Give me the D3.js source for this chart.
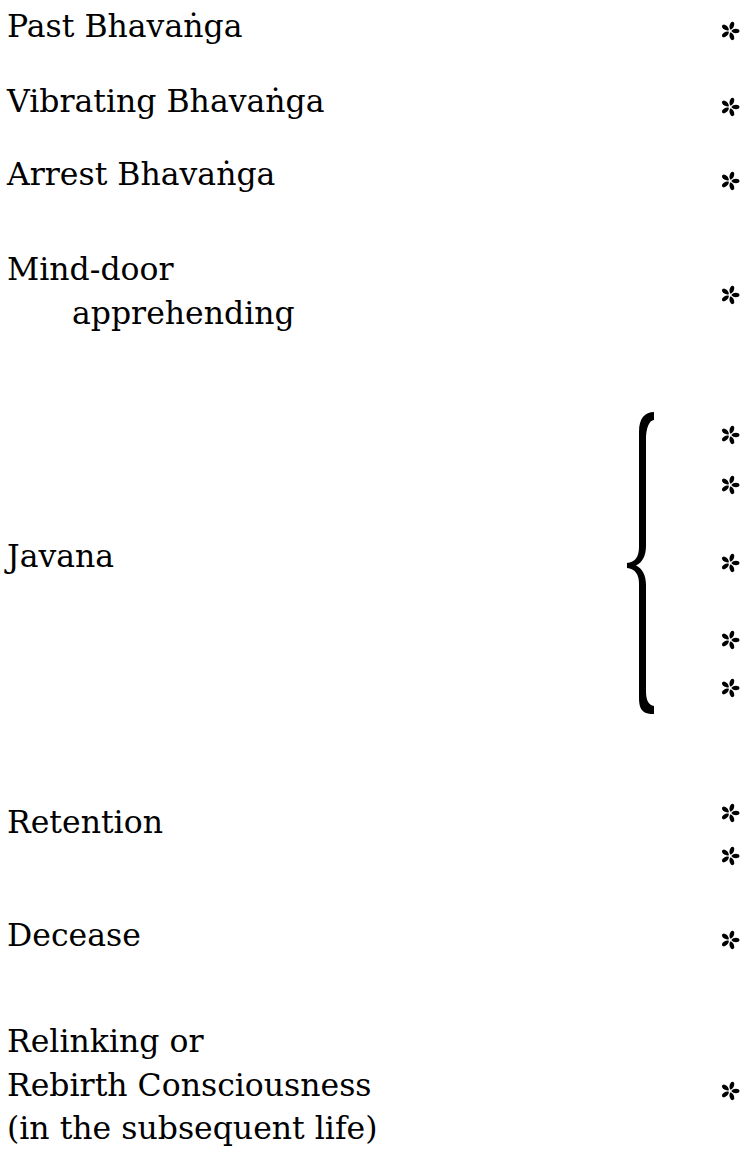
<!DOCTYPE html>
<html>
<head>
<meta charset="utf-8">
<script src="https://cdn.jsdelivr.net/npm/d3@7"></script>
<style>
  body { margin: 0; background: #fff; }
  svg text { font-family: "DejaVu Serif", serif; fill: #000; }
</style>
</head>
<body>
<div id="chart"></div>
<script>
var width = 751,
    height = 1154;

// stages of the mind-door process
var stages = ["Past Bhavaṅga", "Vibrating Bhavaṅga", "Arrest Bhavaṅga",
  "Mind-door|apprehending", "Javana", "Retention", "Decease",
  "Relinking or|Rebirth Consciousness|(in the subsequent life)"];
// where each stage sits on the (top-down) timeline
var stageAt = [37, 112, 185, 280, 567, 833, 946, 1052];

// one asterisk per mind-moment
var momentStage = [0, 1, 2, 3, 4, 4, 4, 4, 4, 5, 5, 6, 7];
var momentAt = [31, 107, 181, 295, 435, 485, 563, 640, 688, 813, 856, 940, 1091];

var svg = d3.select("#chart")
  .append("svg")
    .attr("width", width)
    .attr("height", height);

var y = d3.scaleLinear()
  .domain([0, height])
  .range([0, height]);

var lineH = 43.5;

// labels
var lab = svg.append("g").selectAll("text")
  .data(stages)
  .enter()
  .append("text")
    .attr("font-size", "31.5px")
    .attr("y", function(d, i) { return y(stageAt[i]); });

lab.selectAll("tspan")
  .data(function(d, i) { return d.split("|").map(function(s) { return {s: s, k: i}; }); })
  .enter()
  .append("tspan")
    .attr("x", function(d, j) { return (d.k == 3 && j > 0) ? 72 : 7; })
    .attr("dy", function(d, j) { return j == 0 ? 0 : lineH; })
    .text(function(d) { return d.s; });

// five-spoked asterisk
var petal = "M0,-1.4 C2.2,-3 2.8,-6 1.6,-8.8 Q0,-10.4 -1.6,-8.8 C-2.8,-6 -2.2,-3 0,-1.4 Z";
var ast = svg.append("g").selectAll("g")
  .data(momentAt)
  .enter()
  .append("g")
    .attr("transform", function(d) { return "translate(730," + y(d) + ")"; });

ast.selectAll("path")
  .data([90, 18, -54, -126, -198])
  .enter()
  .append("path")
    .attr("d", petal)
    .attr("transform", function(a) { return "rotate(" + a + ")"; })
    .style("fill", "#000");

// curly brace over the javana moments
var jav = momentAt.filter(function(d, i) { return momentStage[i] == 4; });
var t = y(d3.min(jav)) - 23,
    b = y(d3.max(jav)) + 25,
    m = y(stageAt[4]) - 2;

var brace = "M654," + t +
  " C645," + t + " 639," + (t + 6) + " 639," + (t + 20) +
  " L639," + (m - 18) +
  " C639," + (m - 8) + " 635," + (m - 3) + " 627," + (m - 2) +
  " L627," + (m + 3) +
  " C635," + (m + 4) + " 639," + (m + 9) + " 639," + (m + 19) +
  " L639," + (b - 15) +
  " C639," + (b - 1) + " 645," + (b + 1) + " 654," + (b + 1) +
  " L654," + (b - 7) +
  " C649," + (b - 8) + " 646," + (b - 12) + " 646," + (b - 22) +
  " L646," + (m + 20) +
  " C646," + (m + 10) + " 642," + (m + 3) + " 636," + (m + 0.5) +
  " C642," + (m - 2) + " 646," + (m - 9) + " 646," + (m - 19) +
  " L646," + (t + 27) +
  " C646," + (t + 17) + " 649," + (t + 8) + " 654," + (t + 8) + " Z";

svg.append("path")
  .attr("d", brace)
  .style("fill", "#000");
</script>
</body>
</html>
